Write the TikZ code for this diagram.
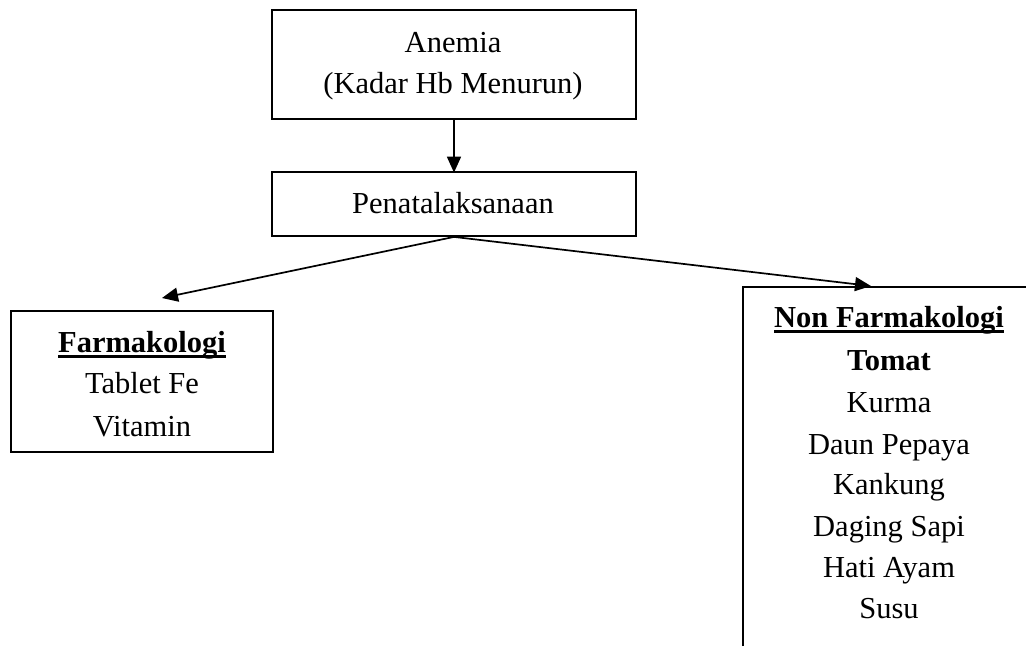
\documentclass[tikz,border=0pt]{standalone}
\usepackage{fontspec}
\setmainfont{Liberation Serif}
\usetikzlibrary{arrows.meta}
\newcommand\ulx[1]{\setbox0\hbox{#1}\rlap{\rule[-6.3pt]{\wd0}{3pt}}\box0}
\begin{document}
\begin{tikzpicture}[x=1pt,y=-1pt,
  box/.style={draw, line width=1.8pt, inner sep=0pt},
  txt/.style={anchor=base, inner sep=0pt, font=\fontsize{30.5}{41.5}\selectfont},
  arr/.style={line width=1.7pt, -{Triangle[length=16pt,width=14pt]}}]
\useasboundingbox (0,0) rectangle (1026,646);
% Anemia
\node[box, minimum width=364pt, minimum height=109pt] (anemia) at (454,64.5) {};
\node[txt] (t1) at (453,52) {Anemia};
\node[txt] (t2) at (453,93) {(Kadar Hb Menurun)};
% Penatalaksanaan
\node[box, minimum width=364pt, minimum height=64pt] (pen) at (454,204) {};
\node[txt] (t3) at (453,213) {Penatalaksanaan};
% Farmakologi
\node[box, minimum width=262pt, minimum height=141pt] (farm) at (142,381.5) {};
\node[txt] (f1) at (142,352) {\ulx{\bfseries Farmakologi}};
\node[txt] (f2) at (142,393) {Tablet Fe};
\node[txt] (f3) at (142,436) {Vitamin};
% Non Farmakologi (open box)
\coordinate (nfbl) at (743,646);
\coordinate (nftl) at (743,287);
\coordinate (nftr) at (1026,287);
\draw[line width=1.8pt] (nfbl) -- (nftl) -- (nftr);
\node[txt] (n1) at (889,327) {\ulx{\bfseries Non Farmakologi}};
\node[txt] (n2) at (889,370) {\bfseries Tomat};
\node[txt] (n3) at (889,412) {Kurma};
\node[txt] (n4) at (889,454) {Daun Pepaya};
\node[txt] (n5) at (889,494) {Kankung};
\node[txt] (n6) at (889,536) {Daging Sapi};
\node[txt] (n7) at (889,577) {Hati Ayam};
\node[txt] (n8) at (889,618) {Susu};
% connectors
\coordinate (ftip) at (162,298);
\coordinate (nftip) at (871,286);
\draw[arr] (anemia.south) -- ([yshift=-1.5pt]pen.north);
\draw[arr] (pen.south) -- (ftip);
\draw[arr] (pen.south) -- (nftip);
\end{tikzpicture}
\end{document}
